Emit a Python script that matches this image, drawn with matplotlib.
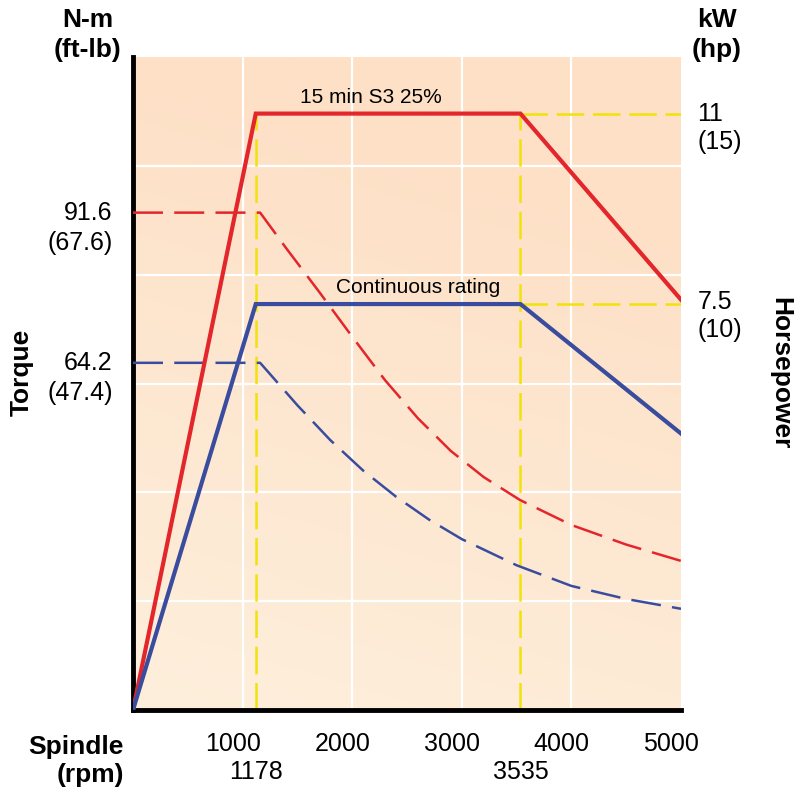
import numpy as np
import matplotlib
matplotlib.use("Agg")
import matplotlib.pyplot as plt
import matplotlib.transforms as mtransforms
from matplotlib.colors import LinearSegmentedColormap

plt.rcParams["font.family"] = ["Liberation Sans", "DejaVu Sans"]

# power curves (kW side), y in grid units (6 grid rows)
rpm_power = [0, 1120, 3535, 5000]
power_s3 = [0, 5.48, 5.48, 3.77]
power_cont = [0, 3.73, 3.73, 2.54]

# torque curves (dashed)
rpm_torque_s3 = [0, 1160, 1400, 1700, 2000, 2300, 2600, 2900, 3200, 3530, 4000, 4500, 5000]
torque_s3 = [4.57, 4.57, 4.24, 3.84, 3.43, 3.03, 2.68, 2.38, 2.14, 1.93, 1.70, 1.52, 1.37]
rpm_torque_cont = [0, 1160, 1500, 1800, 2100, 2400, 2700, 3000, 3500, 4000, 4500, 5000]
torque_cont = [3.19, 3.19, 2.80, 2.48, 2.20, 1.96, 1.75, 1.57, 1.33, 1.14, 1.02, 0.93]

x_ticks = [1000, 2000, 3000, 4000, 5000]
x_tick_labels = ["1000", "2000", "3000", "4000", "5000"]
base_speeds = [1120, 3535]
base_speed_labels = ["1178", "3535"]

torque_labels = [("91.6", "(67.6)", 4.57), ("64.2", "(47.4)", 3.19)]
power_labels = [("11", "(15)", 5.48), ("7.5", "(10)", 3.75)]

RED = "#e3262b"
BLUE = "#3a4c9e"
YELLOW = "#f2e20a"

fig = plt.figure(figsize=(8.03, 7.96), dpi=100)
ax = fig.add_axes([133 / 803, 86 / 796, 548 / 803, 653 / 796])
ax.set_xlim(0, 5000)
ax.set_ylim(0, 6)

# background gradient: peach at top, lighter toward bottom-left
gy, gx = np.mgrid[0:1:200j, 0:1:200j]
light = np.clip(gy * 0.8 + (1 - gx) * 0.2 - 0.2, 0, 1) / 0.8
bg_cmap = LinearSegmentedColormap.from_list("bg", ["#fde0c6", "#feefdc"])
ax.imshow(light, cmap=bg_cmap, extent=[0, 5000, 0, 6], aspect="auto",
          origin="upper", zorder=0, vmin=0, vmax=1)

for xv in x_ticks[:-1]:
    ax.axvline(xv, color="white", lw=1.6, zorder=1)
for yv in range(1, 6):
    ax.axhline(yv, color="white", lw=1.6, zorder=1)

# yellow guide lines
dash_y = (0, (11, 3.5))
for bx in base_speeds:
    ax.plot([bx, bx], [0, power_s3[1]], color=YELLOW, lw=1.8, ls=dash_y, zorder=2)
ax.plot([3535, 5000], [power_s3[2], power_s3[2]], color=YELLOW, lw=1.8, ls=dash_y, zorder=2)
ax.plot([3535, 5000], [power_cont[2], power_cont[2]], color=YELLOW, lw=1.8, ls=dash_y, zorder=2)

# torque (dashed)
ax.plot(rpm_torque_s3, torque_s3, color=RED, lw=1.8, ls=(0, (12, 4.5)), zorder=3)
ax.plot(rpm_torque_cont, torque_cont, color=BLUE, lw=1.8, ls=(0, (12, 4.5)), zorder=3)

# power (solid)
ax.plot(rpm_power, power_s3, color=RED, lw=3, zorder=4, solid_joinstyle="miter")
ax.plot(rpm_power, power_cont, color=BLUE, lw=3, zorder=4, solid_joinstyle="miter")

ax.text(2170, 5.63, "15 min S3 25%", ha="center", va="center", fontsize=15)
ax.text(2600, 3.88, "Continuous rating", ha="center", va="center", fontsize=15)

for side in ["top", "right"]:
    ax.spines[side].set_visible(False)
for side in ["left", "bottom"]:
    ax.spines[side].set_linewidth(3.5)
    ax.spines[side].set_color("black")

ax.set_yticks([])
ax.set_xticks(x_ticks)
ax.set_xticklabels(x_tick_labels, fontsize=18)
ax.tick_params(axis="x", length=0, pad=16)
shift = mtransforms.ScaledTranslation(-10 / 100, 0, fig.dpi_scale_trans)
for lbl in ax.get_xticklabels():
    lbl.set_transform(lbl.get_transform() + shift)

xt = ax.get_xaxis_transform()
for bx, lab in zip(base_speeds, base_speed_labels):
    ax.text(bx, -0.095, lab, transform=xt, ha="center", va="center", fontsize=18)

yt = ax.get_yaxis_transform()
for top, bottom, yv in torque_labels:
    ax.text(-0.037, yv, top, transform=yt, ha="right", va="center", fontsize=18)
    ax.text(-0.037, yv - 0.28, bottom, transform=yt, ha="right", va="center", fontsize=18)
for top, bottom, yv in power_labels:
    ax.text(1.03, yv, top, transform=yt, ha="left", va="center", fontsize=18)
    ax.text(1.03, yv - 0.26, bottom, transform=yt, ha="left", va="center", fontsize=18)

bold = dict(fontsize=19, weight="bold", va="center")
fig.text(88 / 803, 1 - 20 / 796, "N-m", ha="center", **bold)
fig.text(88 / 803, 1 - 50 / 796, "(ft-lb)", ha="center", **bold)
fig.text(717 / 803, 1 - 20 / 796, "kW", ha="center", **bold)
fig.text(717 / 803, 1 - 50 / 796, "(hp)", ha="center", **bold)
fig.text(124 / 803, 1 - 747 / 796, "Spindle", ha="right", **bold)
fig.text(124 / 803, 1 - 775 / 796, "(rpm)", ha="right", **bold)
fig.text(22 / 803, 1 - 372 / 796, "Torque", ha="center", rotation=90, **bold)
fig.text(780 / 803, 1 - 373 / 796, "Horsepower", ha="center", rotation=270, **bold)

fig.savefig("out.png", dpi=100)
